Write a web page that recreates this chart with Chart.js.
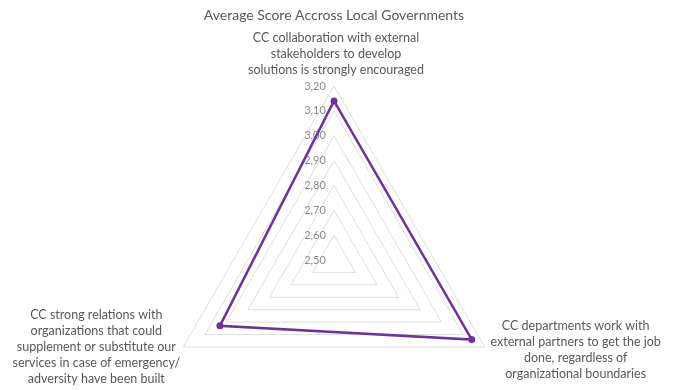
<!DOCTYPE html>
<html>
<head>
<meta charset="utf-8">
<script src="https://cdn.jsdelivr.net/npm/chart.js@4.4.1/dist/chart.umd.min.js"></script>
<style>
  html, body { margin: 0; padding: 0; background: #ffffff; overflow: hidden; }
  #wrap { width: 676px; height: 390px; overflow: hidden; }
</style>
</head>
<body>
<div id="wrap"><canvas id="chart" width="676" height="434"></canvas></div>
<script>
// Axis categories (each entry is a multi-line label)
const categories = [
  ['CC collaboration with external', 'stakeholders to develop', 'solutions is strongly encouraged'],
  ['CC departments work with', 'external partners to get the job', 'done, regardless of', 'organizational boundaries'],
  ['CC strong relations with', 'organizations that could', 'supplement or substitute our', 'services in case of emergency/', 'adversity have been built']
];

// Average score per category
const averageScores = [3.14, 3.14, 3.03];

// Radial scale ticks and their printed labels
const tickValues = [2.5, 2.6, 2.7, 2.8, 2.9, 3.0, 3.1, 3.2];
const tickLabels = ['2,50', '2,60', '2,70', '2,80', '2,90', '3,00', '3,10', '3,20'];

const FONT = 'Lato, "Open Sans", sans-serif';

// Tick labels sit just left of the vertical axis, under the data line
const tickTextPlugin = {
  id: 'tickText',
  beforeDatasetsDraw(chart) {
    const s = chart.scales.r;
    const ctx = chart.ctx;
    ctx.save();
    ctx.font = '11px ' + FONT;
    ctx.fillStyle = '#8c8c8c';
    ctx.textAlign = 'center';
    ctx.textBaseline = 'middle';
    tickValues.forEach((v, k) => {
      const d = s.getDistanceFromCenterForValue(v);
      ctx.fillText(tickLabels[k], s.xCenter - 19, s.yCenter - d);
    });
    ctx.restore();
  }
};

// Category labels placed around the outer vertices of the scale
const categoryTextPlugin = {
  id: 'categoryText',
  afterDraw(chart) {
    const s = chart.scales.r;
    const ctx = chart.ctx;
    const lineH = 16;
    const shift = [[2, -32], [91, 3], [-87, 0]];
    ctx.save();
    ctx.font = '12.5px ' + FONT;
    ctx.fillStyle = '#595959';
    ctx.textAlign = 'center';
    ctx.textBaseline = 'middle';
    categories.forEach((lines, i) => {
      const p = s.getPointPosition(i, s.drawingArea);
      const cx = p.x + shift[i][0];
      const cy = p.y + shift[i][1];
      const y0 = cy - (lines.length - 1) * lineH / 2;
      lines.forEach((t, j) => ctx.fillText(t, cx, y0 + j * lineH));
    });
    ctx.restore();
  }
};

new Chart(document.getElementById('chart'), {
  type: 'radar',
  data: {
    labels: categories,
    datasets: [{
      label: 'Average Score',
      data: averageScores,
      borderColor: '#7030a0',
      backgroundColor: 'rgba(0,0,0,0)',
      borderWidth: 2.5,
      fill: false,
      pointRadius: 3.5,
      pointHoverRadius: 3.5,
      pointBackgroundColor: '#7030a0',
      pointBorderColor: '#7030a0',
      pointBorderWidth: 0
    }]
  },
  options: {
    responsive: false,
    devicePixelRatio: 1,
    animation: false,
    layout: { padding: { left: 0, right: 8, top: 0, bottom: 0 } },
    plugins: {
      legend: { display: false },
      tooltip: { enabled: false },
      title: {
        display: true,
        text: 'Average Score Accross Local Governments',
        color: '#595959',
        font: { family: FONT, size: 14, weight: 'normal' },
        padding: { top: 7, bottom: 62.2 }
      }
    },
    scales: {
      r: {
        min: 2.5,
        max: 3.2,
        ticks: { display: false, stepSize: 0.1 },
        pointLabels: { display: false },
        angleLines: { display: false },
        grid: { color: '#dedede', lineWidth: 1, circular: false }
      }
    }
  },
  plugins: [tickTextPlugin, categoryTextPlugin]
});
</script>
</body>
</html>
